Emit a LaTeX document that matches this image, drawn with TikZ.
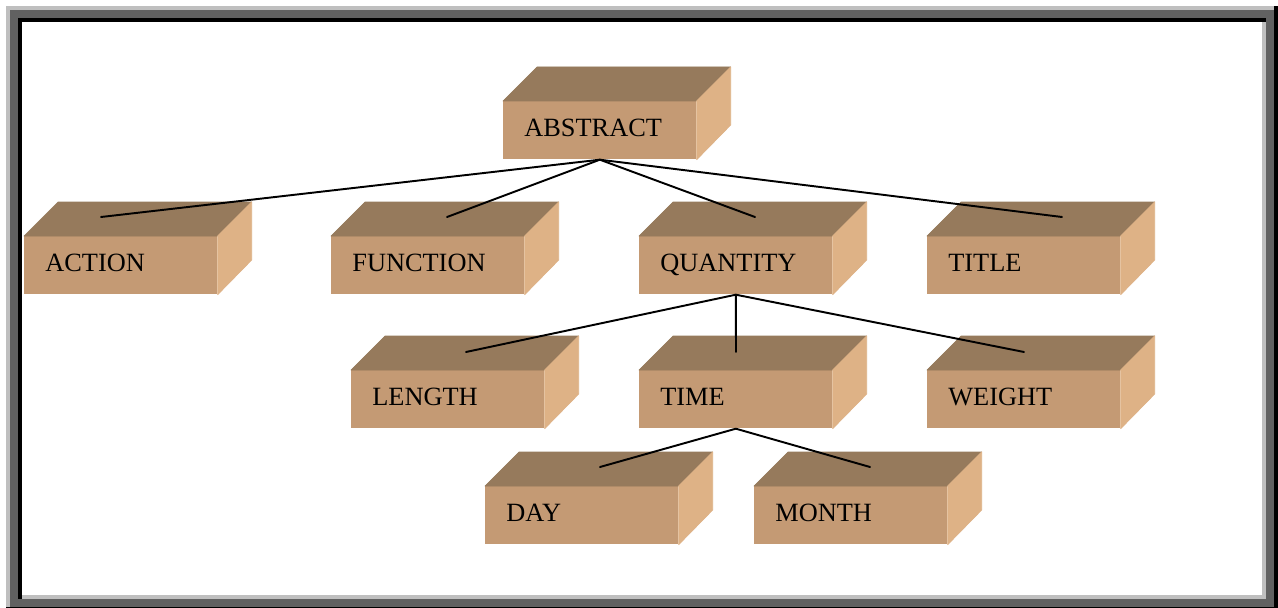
\documentclass[tikz,border=0pt]{standalone}
\usepackage{fontspec}
\setmainfont{Liberation Serif}
\usepackage{tikz}
\definecolor{crtop}{RGB}{150, 122, 92}
\definecolor{crfront}{RGB}{196, 154, 116}
\definecolor{crside}{RGB}{222, 178, 134}
\definecolor{gray75}{gray}{0.75}
\definecolor{gray38}{gray}{0.38}

\tikzset{
  crate/.style={fill=crfront, anchor=north west, inner ysep=0pt, inner xsep=0.42cm,
    text width=3.02cm, align=left, minimum height=1.16cm,
    text height=10pt, text depth=3.2pt, font=\fontsize{15}{17}\selectfont},
  cratetop/.style={fill=crtop, draw=crtop, line width=0.4pt, line join=round},
  crateside/.style={fill=crside, draw=crside, line width=0.4pt, line join=round},
  link/.style={line width=1.1pt, line cap=round}
}

% a box: front face as node, top and side faces hung on its corners
\newcommand{\crate}[4]{%
  \node[crate] (#1) at (#2, #3) {#4};
  \filldraw[cratetop] (#1.north west) -- ++(34, -34) -- ([shift={(34, -34)}]#1.north east) -- (#1.north east) -- cycle;
  \filldraw[crateside] (#1.north east) -- ++(34, -34) -- ++(0, 58) -- (#1.south east) -- cycle;
}

\begin{document}
\begin{tikzpicture}[x=0.02cm, y=-0.02cm]

  \useasboundingbox (0, 0) rectangle (1278, 608);

  % double bevel frame
  \fill[black] (6, 6) rectangle (1278, 611);
  \fill[gray75] (6, 6) rectangle (1274, 607);
  \fill[gray38] (10, 10) rectangle (1274, 607);
  \fill[black] (18, 18) rectangle (1266, 599);
  \fill[gray75] (22, 22) rectangle (1266, 599);
  \fill[white] (22, 22) rectangle (1262, 595);

  \crate{abstract}{503}{101}{ABSTRACT}

  \crate{action}{24}{236}{ACTION}
  \crate{function}{331}{236}{FUNCTION}
  \crate{quantity}{639}{236}{QUANTITY}
  \crate{title}{927}{236}{TITLE}

  \crate{length}{351}{370}{LENGTH}
  \crate{time}{639}{370}{TIME}
  \crate{weight}{927}{370}{WEIGHT}

  \crate{day}{485}{486}{DAY}
  \crate{month}{754}{486}{MONTH}

  \draw[link] (abstract.south) -- ([shift={(77, -19)}]action.north west);
  \draw[link] (abstract.south) -- ([shift={(116, -19)}]function.north west);
  \draw[link] (abstract.south) -- ([shift={(116, -19)}]quantity.north west);
  \draw[link] (abstract.south) -- ([shift={(135, -19)}]title.north west);

  \draw[link] (quantity.south) -- ([shift={(115, -18)}]length.north west);
  \draw[link] (quantity.south) -- ([shift={(97, -18)}]time.north west);
  \draw[link] (quantity.south) -- ([shift={(97, -18)}]weight.north west);

  \draw[link] (time.south) -- ([shift={(115, -19)}]day.north west);
  \draw[link] (time.south) -- ([shift={(116, -19)}]month.north west);

\end{tikzpicture}
\end{document}
